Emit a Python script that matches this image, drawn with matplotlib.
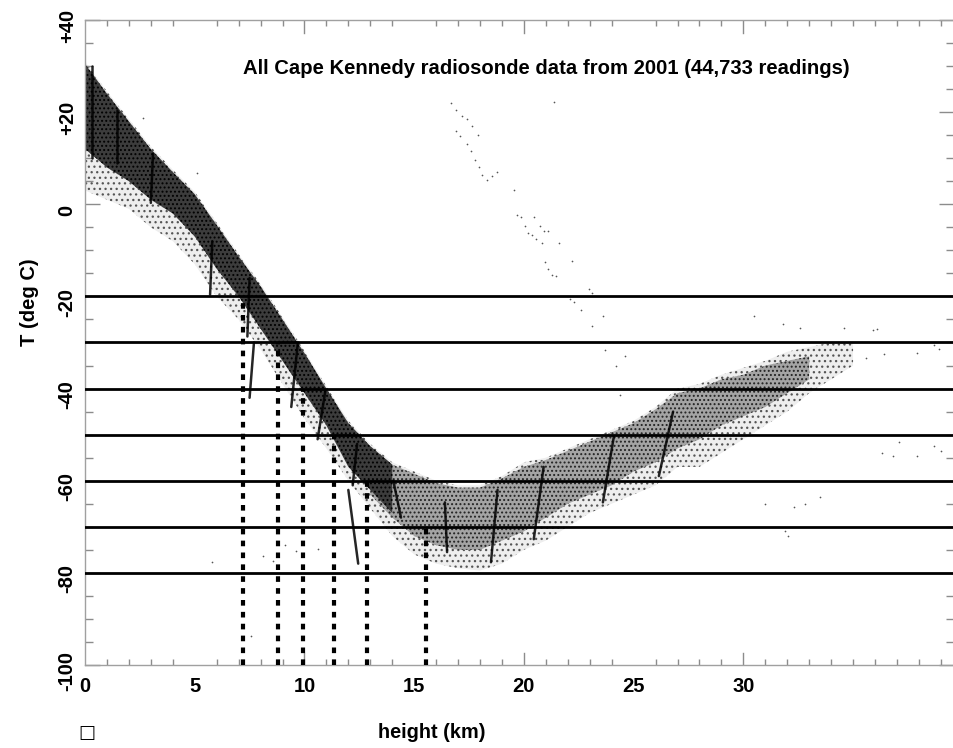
import matplotlib
matplotlib.use("Agg")
import matplotlib.pyplot as plt
from matplotlib.transforms import ScaledTranslation

plt.rcParams['font.family'] = ['Liberation Sans', 'DejaVu Sans']
plt.rcParams['font.weight'] = 'bold'
plt.rcParams['hatch.linewidth'] = 0.9

# outer envelope of the whole cloud of readings
h = [0, 1, 2, 3, 4, 5, 6, 7, 8, 9, 10, 11, 12, 13, 14, 15, 16, 17, 18,
     19, 20, 21, 22, 23, 24, 25, 26, 27, 28, 29, 30, 31, 32, 33, 34, 35]
cloud_hi = [31, 24.5, 18.5, 12.5, 7.5, 2.7, -4, -10.8, -17.3, -24.5, -31.8, -39.5,
            -47, -52, -56, -58, -60, -61, -61, -59, -56, -55, -53, -51, -49, -47,
            -44, -40, -39, -37, -35.5, -34, -32, -31, -30, -30]
cloud_lo = [3, 1, -1, -5, -8, -13, -20, -25, -31.5, -39, -46.5, -53, -60, -66,
            -72, -76, -78, -79, -79.5, -78, -75, -73, -70, -67, -65, -63, -61, -57,
            -57, -54, -51, -48, -45, -41, -38, -35]

# dense core of the troposphere part
core_h = [0, 1, 2, 3, 4, 5, 6, 7, 8, 9, 10, 11, 12, 13, 14]
core_hi = [30.5, 24, 18, 12, 7, 2.2, -4.5, -11.3, -17.8, -25, -32.3, -40, -47.5, -52.5, -56.5]
core_lo = [12, 8, 5, 1, -2, -7, -14, -20, -27, -34, -41, -48, -57, -62, -67]

# medium density part near tropopause and stratosphere
mid_h = [13, 14, 15, 16, 17, 18, 19, 20, 21, 22, 23, 24, 25, 26, 27, 28, 29, 30, 31, 32, 33]
mid_hi = [-52.5, -56.5, -58.5, -60.5, -61.5, -61.5, -59.5, -57, -55.5, -53.5, -51.5,
          -49.5, -47.5, -44.5, -41, -40, -38, -37, -35, -34, -33]
mid_lo = [-63, -68, -72, -74, -75, -75, -73, -71, -68, -65, -63, -61, -58, -56, -53,
          -51, -48, -46, -44, -41, -38]

# dark streaks (x top, T top, x bottom, T bottom)
streak_x0 = [0.3, 1.45, 3.1, 5.8, 7.5, 7.7, 9.7, 10.95, 12.4, 12.0, 14.05, 16.4, 18.8, 20.9, 24.1, 26.8]
streak_t0 = [30, 20.5, 11, -8, -16, -30, -30, -40.6, -52, -62, -60, -64.7, -62, -57, -50.4, -45]
streak_x1 = [0.3, 1.45, 3.0, 5.7, 7.4, 7.5, 9.4, 10.6, 12.2, 12.45, 14.4, 16.5, 18.5, 20.45, 23.6, 26.15]
streak_t1 = [10, 9, 0.3, -19.6, -28.7, -42, -44, -51, -61, -78, -68, -75.5, -77.7, -72.7, -64.7, -59]

# stray readings
odd_x = [16.66, 16.9, 17.2, 17.4, 17.65, 16.9, 17.07, 17.9, 17.4, 17.57, 17.77, 17.95,
         18.1, 18.33, 18.56, 18.76, 21.37, 19.55, 19.7, 19.85, 20.07, 20.45, 20.2, 20.38,
         20.54, 20.73, 20.9, 21.1, 20.84, 21.6, 20.95, 22.17, 21.1, 21.3, 21.45, 22.98,
         23.1, 22.1, 22.3, 22.6, 23.1, 23.6, 23.7, 24.6, 24.2, 24.4, 30.5, 31.8, 32.6,
         34.6, 35.9, 36.1, 35.6, 36.4, 36.3, 36.8, 37.9, 38.7, 39.0, 37.1, 33.5, 31.0,
         32.3, 32.8, 31.9, 32.05, 37.9, 38.7, 38.9, 5.8, 7.56, 8.1, 8.55, 9.1, 9.6, 10.6,
         2.65, 5.1]
odd_t = [22, 20.5, 19.2, 18.6, 16.9, 16, 14.9, 15.1, 13.1, 11.5, 9.7, 8.2, 6.4, 5.3,
         6.2, 7.1, 22.3, 3.2, -2.3, -2.8, -4.8, -2.8, -6.3, -6.6, -7.5, -4.8, -5.9, -5.7,
         -8.4, -8.3, -12.6, -12.4, -14.1, -15.3, -15.5, -18.4, -19.3, -20.6, -21.3, -23,
         -26.5, -24.2, -31.7, -33, -35, -41.4, -24.3, -26, -26.8, -26.8, -27.2, -27,
         -33.4, -32.5, -54, -54.6, -54.6, -52.5, -53.5, -51.6, -63.5, -65, -65.7, -65,
         -71, -72, -32.3, -30.5, -31.4, -77.7, -93.8, -76.4, -77.5, -73.9, -75.2, -74.8,
         18.7, 6.8]

levels = [-20, -30, -40, -50, -60, -70, -80]
drop_x = [7.22, 8.81, 9.95, 11.36, 12.84, 15.54]
drop_t = [-20, -30, -40, -50, -60, -70]

fig = plt.figure(figsize=(9.54, 7.48), dpi=100)
ax = fig.add_axes([85 / 954, 83 / 748, 869 / 954, 645 / 748])

ax.fill_between(h, cloud_lo, cloud_hi, facecolor='#eeeeee', edgecolor='#555555',
                hatch='...', linewidth=0, zorder=1)
ax.fill_between(mid_h, mid_lo, mid_hi, facecolor='#a4a4a4', edgecolor='#222222',
                hatch='....', linewidth=0, zorder=1.5)
ax.fill_between(core_h, core_lo, core_hi, facecolor='#3c3c3c', edgecolor='black',
                hatch='....', linewidth=0, zorder=1.6)

for x0, t0, x1, t1 in zip(streak_x0, streak_t0, streak_x1, streak_t1):
    ax.plot([x0, x1], [t0, t1], color='black', lw=1.8, alpha=0.85,
            solid_capstyle='round', zorder=2)

ax.scatter(odd_x, odd_t, s=1.5, color='#555555', linewidths=0, zorder=2)

for lv in levels:
    ax.axhline(lv, color='black', lw=2, zorder=3)

for x, t in zip(drop_x, drop_t):
    ax.plot([x, x], [-100, t], color='black', lw=3, linestyle=(0, (1.35, 1.5)), zorder=3)

ax.set_xlim(0, 39.6)
ax.set_ylim(-100, 40)

ax.set_xticks([0, 5, 10, 15, 20, 25, 30])
ax.set_xticklabels(['0', '5', '10', '15', '20', '25', '30'], fontsize=14.5, fontweight='bold')
ax.set_xticks(range(0, 40), minor=True)
ax.set_yticks([40, 20, 0, -20, -40, -60, -80, -100])
ax.set_yticklabels(['+40', '+20', '0', '-20', '-40', '-60', '-80', '-100'],
                   rotation=90, va='center', fontsize=14.5, fontweight='bold')
ax.set_yticks(range(-100, 41, 5), minor=True)

ax.tick_params(axis='both', which='both', direction='in', color='#8c8c8c', width=1,
               top=True, right=True)
ax.tick_params(axis='x', which='major', length=0, pad=9)
ax.tick_params(axis='x', which='minor', length=4.5)
ax.tick_params(axis='y', which='major', length=11, pad=6)
ax.tick_params(axis='y', which='minor', length=5.5)
for sp in ax.spines.values():
    sp.set_color('#a0a0a0')
    sp.set_linewidth(1)

# long ticks at every 10 km on top and bottom
for xv in [10, 20, 30]:
    ax.plot([xv, xv], [-100, -97.4], color='#8c8c8c', lw=1, zorder=0.5)
    ax.plot([xv, xv], [40, 37.2], color='#8c8c8c', lw=1, zorder=0.5)

shift = ScaledTranslation(0, -6 / 100, fig.dpi_scale_trans)
for lab in ax.get_yticklabels():
    lab.set_transform(lab.get_transform() + shift)

fig.text(546 / 954, 1 - 68 / 748, 'All Cape Kennedy radiosonde data from 2001 (44,733 readings)',
         ha='center', va='center', fontsize=14.6, fontweight='bold')
fig.text(432 / 954, 1 - 733 / 748, 'height (km)', ha='center', va='center',
         fontsize=14.3, fontweight='bold')
fig.text(30 / 954, 1 - 302 / 748, 'T (deg C)', ha='center', va='center', rotation=90,
         fontsize=14.5, fontweight='bold')
fig.text(87 / 954, 1 - 733 / 748, '\u25a1', ha='center', va='center', fontsize=13,
         family='DejaVu Sans')

fig.savefig('out.png', dpi=100)
